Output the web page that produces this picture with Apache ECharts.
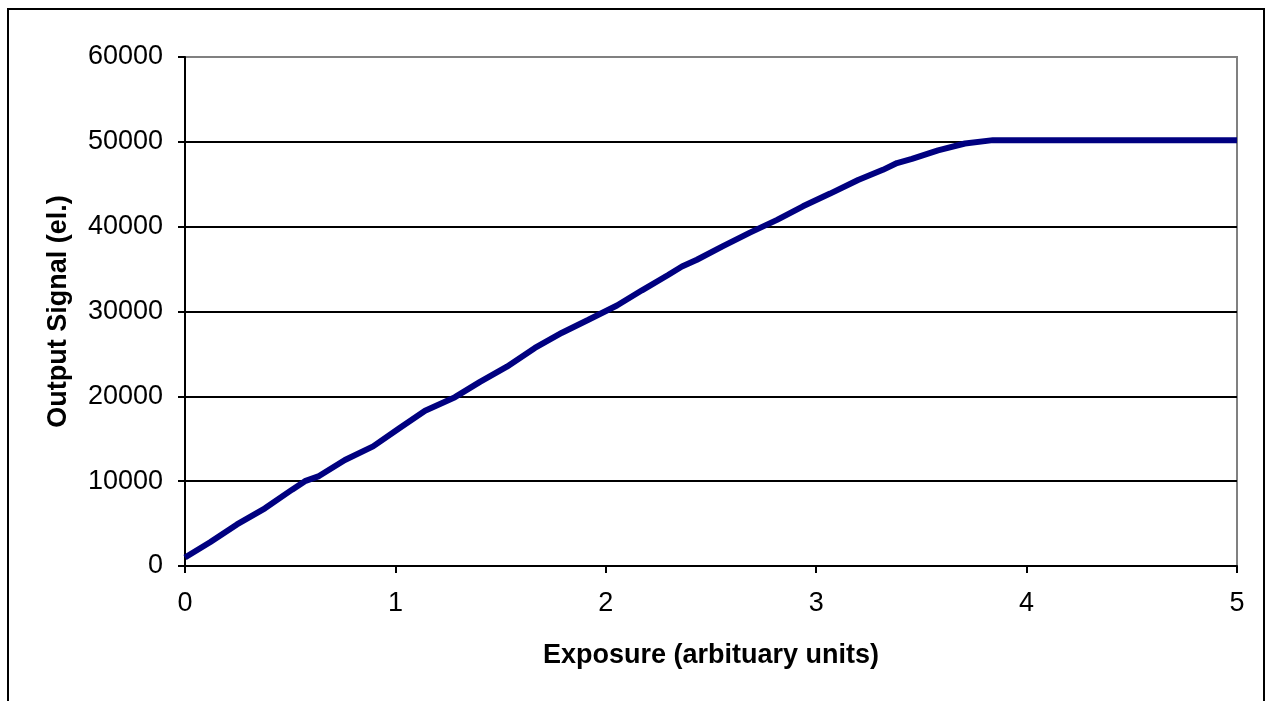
<!DOCTYPE html>
<html>
<head>
<meta charset="utf-8">
<script src="https://cdn.jsdelivr.net/npm/echarts@6/dist/echarts.min.js"></script>
<style>
  html, body { margin: 0; padding: 0; background: #fff; }
  #chart { width: 1266px; height: 701px; }
</style>
</head>
<body>
<div id="chart"></div>
<script>
// exposure (arbitrary units) and output signal (electrons)
const exposure = [
  0.000, 0.119, 0.247, 0.380, 0.509, 0.570, 0.637, 0.760, 0.894, 1.022,
  1.141, 1.283, 1.402, 1.530, 1.663, 1.792, 1.915, 2.053, 2.172, 2.296,
  2.362, 2.433, 2.557, 2.685, 2.814, 2.937, 3.066, 3.199, 3.317, 3.384,
  3.455, 3.579, 3.707, 3.840, 3.969, 4.097, 4.226, 4.354, 4.482, 4.611,
  4.739, 4.867, 5.000
];
const signal = [
  1000, 2800, 4900, 6800, 9000, 10000, 10600, 12500, 14100, 16300,
  18300, 19900, 21700, 23500, 25700, 27500, 29000, 30700, 32500, 34300,
  35300, 36100, 37700, 39300, 40800, 42400, 43900, 45500, 46700, 47500,
  48000, 49000, 49800, 50200, 50200, 50200, 50200, 50200, 50200, 50200,
  50200, 50200, 50200
];

const xTitle = "Exposure (arbituary units)";
const yTitle = "Output Signal (el.)";

const font = "'Liberation Sans', Arial, sans-serif";

const chart = echarts.init(document.getElementById("chart"), null, { renderer: "canvas" });

chart.setOption({
  animation: false,
  backgroundColor: "#fff",
  graphic: [
    {
      type: "rect",
      shape: { x: 8, y: 9, width: 1256, height: 740 },
      style: { fill: null, stroke: "#000", lineWidth: 2 },
      z: 10
    }
  ],
  grid: {
    left: 185,
    top: 57,
    right: 29,
    bottom: 135,
    show: true,
    borderColor: "#808080",
    borderWidth: 2,
    backgroundColor: "#fff"
  },
  xAxis: {
    type: "value",
    min: 0,
    max: 5,
    interval: 1,
    name: xTitle,
    nameLocation: "middle",
    nameGap: 76,
    nameTextStyle: { fontFamily: font, fontSize: 27, fontWeight: "bold", color: "#000" },
    axisLine: { show: true, lineStyle: { color: "#000", width: 2 } },
    axisTick: { show: true, length: 7, lineStyle: { color: "#000", width: 2 } },
    axisLabel: { fontFamily: font, fontSize: 27, color: "#000", margin: 24 },
    splitLine: { show: false }
  },
  yAxis: {
    type: "value",
    min: 0,
    max: 60000,
    interval: 10000,
    name: yTitle,
    nameLocation: "middle",
    nameGap: 113,
    nameTextStyle: { fontFamily: font, fontSize: 27, fontWeight: "bold", color: "#000" },
    axisLine: { show: true, lineStyle: { color: "#000", width: 2 } },
    axisTick: { show: true, length: 7, lineStyle: { color: "#000", width: 2 } },
    axisLabel: {
      fontFamily: font,
      fontSize: 27,
      color: "#000",
      margin: 22,
      formatter: (value) => String(value)
    },
    splitLine: {
      show: true,
      showMaxLine: false,
      lineStyle: { color: "#000", width: 2 }
    }
  },
  series: [
    {
      type: "line",
      data: exposure.map((x, i) => [x, signal[i]]),
      showSymbol: false,
      smooth: false,
      lineStyle: { color: "#000080", width: 6 },
      itemStyle: { color: "#000080" }
    }
  ]
});
</script>
</body>
</html>
